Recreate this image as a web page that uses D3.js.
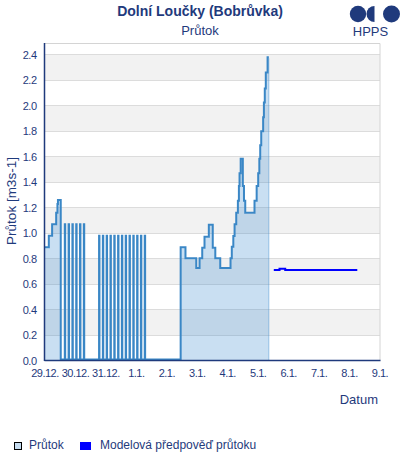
<!DOCTYPE html>
<html><head><meta charset="utf-8">
<script src="https://cdn.jsdelivr.net/npm/d3@7"></script>
<style>
html,body{margin:0;padding:0;background:#fff;}
svg{display:block;font-family:"Liberation Sans",Arial,sans-serif;}
</style></head>
<body><svg id="c" width="400" height="460"></svg>
<script>
// ---- data ----
const chartTitle = "Dolní Loučky (Bobrůvka)";
const chartSubtitle = "Průtok";
const yAxisTitle = "Průtok [m3s-1]";
const xAxisTitle = "Datum";
const legendLabels = ["Průtok", "Modelová předpověď průtoku"];
const startDate = new Date(2023, 11, 29);
const endDate = new Date(2024, 0, 9);
const yTicks = [0, 0.2, 0.4, 0.6, 0.8, 1.0, 1.2, 1.4, 1.6, 1.8, 2.0, 2.2, 2.4];
// observed flow: hours since 29.12. 00:00 and values (step changes)
const flowHours = [
  0, 3.4, 6, 9.2, 10.2, 10.6, 12.8,
  16, 16.3, 19, 19.3, 22, 22.3, 25, 25.3, 28, 28.3, 31, 31.3,
  43, 43.3, 46, 46.3, 49, 49.3, 52, 52.3, 55, 55.3, 58, 58.3, 61, 61.3,
  64, 64.3, 67, 67.3, 70, 70.3, 73, 73.3, 76, 76.3, 79, 79.3,
  107.3, 111.1, 119.6, 122.2, 124.3, 126.1, 129.5, 132.6, 134.6, 138.5,
  146.6, 147.6, 148.8, 149.8, 151.1, 152.4, 153.2, 153.7, 154.6, 156.3,
  157.2, 158.2, 165.5, 167.2, 168.4, 169.3, 170.0, 170.8, 172.3, 172.9,
  173.6, 174.4, 175.8, 176.8
];
const flowValues = [
  0.88, 0.97, 1.06, 1.15, 1.22, 1.25, 0,
  1.06, 0, 1.06, 0, 1.06, 0, 1.06, 0, 1.06, 0, 1.06, 0,
  0.97, 0, 0.97, 0, 0.97, 0, 0.97, 0, 0.97, 0, 0.97, 0, 0.97, 0,
  0.97, 0, 0.97, 0, 0.97, 0, 0.97, 0, 0.97, 0, 0.97, 0,
  0.88, 0.795, 0.717, 0.795, 0.877, 0.963, 1.057, 0.877, 0.795, 0.717,
  0.795, 0.885, 0.968, 1.06, 1.15, 1.245, 1.36, 1.46, 1.575, 1.36,
  1.245, 1.15, 1.245, 1.36, 1.46, 1.575, 1.68, 1.79, 1.9, 2.015,
  2.125, 2.25, 2.37, 2.37
];
// model forecast
const forecastHours = [180.7, 185.2, 189.7, 246.5];
const forecastValues = [0.71, 0.72, 0.71, 0.71];

// ---- drawing ----
const navy = "#1f3a7c";
const svg = d3.select("#c");
const L = 44.5, R = 379.5, T = 43, B = 360.5;
const toDate = h => new Date(startDate.getTime() + h * 3600e3);
const x = d3.scaleTime().domain([startDate, endDate]).range([L, R]);
const y = d3.scaleLinear().domain([0, 2.49]).range([B, T]);

// bands
const bands = yTicks.filter((v, i) => i % 2 === 1 && i + 1 < yTicks.length);
svg.append("g").selectAll("rect").data(bands).join("rect")
  .attr("x", L).attr("width", R - L + 0.5)
  .attr("y", d => y(d + 0.2)).attr("height", d => y(d) - y(d + 0.2))
  .attr("fill", "#f2f2f2");
// gridlines
svg.append("g").selectAll("line").data(yTicks.slice(1)).join("line")
  .attr("x1", L).attr("x2", R + 0.5)
  .attr("y1", d => Math.round(y(d)) + 0.5).attr("y2", d => Math.round(y(d)) + 0.5)
  .attr("stroke", "#dcdcdc").attr("stroke-width", 1);
// borders top/right
svg.append("path").attr("d", `M${L},${T + 0.5}H${R + 0.5}V${B}`)
  .attr("fill", "none").attr("stroke", "#d4d4d4").attr("stroke-width", 1);

const flow = flowHours.map((h, i) => ({t: toDate(h), v: flowValues[i]}));
const fc = forecastHours.map((h, i) => ({t: toDate(h), v: forecastValues[i]}));

svg.append("path").datum(flow)
  .attr("d", d3.area().curve(d3.curveStepAfter).x(d => x(d.t)).y0(y(0)).y1(d => y(d.v)))
  .attr("fill", "#3d8bd0").attr("fill-opacity", 0.28);
const last = flow[flow.length - 1];
svg.append("line").attr("x1", x(last.t)).attr("x2", x(last.t))
  .attr("y1", y(0)).attr("y2", y(last.v))
  .attr("stroke", "#3d8bd0").attr("stroke-opacity", 0.45).attr("stroke-width", 1);
svg.append("path").datum(flow)
  .attr("d", d3.line().curve(d3.curveStepAfter).x(d => x(d.t)).y(d => y(d.v) - 1))
  .attr("fill", "none").attr("stroke", "#3a87c6").attr("stroke-width", 2)
  .attr("stroke-linejoin", "miter");
svg.append("path").datum(fc)
  .attr("d", d3.line().curve(d3.curveStepAfter).x(d => x(d.t)).y(d => y(d.v)))
  .attr("fill", "none").attr("stroke", "#0000ff").attr("stroke-width", 2);

// axes
const ya = svg.append("g").attr("transform", `translate(${L},0)`)
  .call(d3.axisLeft(y).tickValues(yTicks).tickSize(0).tickPadding(8).tickFormat(d3.format(".1f")));
ya.select(".domain").remove();
ya.selectAll("text").attr("fill", navy).attr("font-size", 11).attr("letter-spacing", "-0.5px")
  .attr("font-family", "Liberation Sans, Arial, sans-serif").attr("dy", "0.36em");
const xa = svg.append("g").attr("transform", `translate(0,${B})`)
  .call(d3.axisBottom(x).ticks(d3.timeDay.every(1)).tickSize(0).tickPadding(9)
    .tickFormat(d3.timeFormat("%-d.%-m.")));
xa.select(".domain").remove();
xa.selectAll("text").attr("fill", navy).attr("font-size", 11).attr("letter-spacing", "-0.5px")
  .attr("font-family", "Liberation Sans, Arial, sans-serif");
svg.append("line").attr("x1", L).attr("x2", L).attr("y1", T).attr("y2", B + 0.5)
  .attr("stroke", navy).attr("stroke-width", 1.5);
svg.append("line").attr("x1", L).attr("x2", R + 1).attr("y1", B).attr("y2", B)
  .attr("stroke", navy).attr("stroke-width", 1.5);

// titles
svg.append("text").attr("x", 200).attr("y", 16).attr("text-anchor", "middle")
  .attr("font-size", 14).attr("font-weight", "bold").attr("fill", navy).text(chartTitle);
svg.append("text").attr("x", 200).attr("y", 35).attr("text-anchor", "middle")
  .attr("font-size", 13).attr("fill", navy).text(chartSubtitle);
svg.append("text").attr("transform", "translate(16,201) rotate(-90)").attr("text-anchor", "middle")
  .attr("font-size", 13.5).attr("fill", navy).text(yAxisTitle);
svg.append("text").attr("x", 378).attr("y", 404).attr("text-anchor", "end")
  .attr("font-size", 13).attr("fill", navy).text(xAxisTitle);

// logo
const logo = svg.append("g").attr("fill", navy);
logo.append("circle").attr("cx", 358).attr("cy", 14).attr("r", 8.2);
logo.append("path").attr("d", "M374.5,6 A8,8 0 0 0 374.5,22 Z");
logo.append("circle").attr("cx", 391.5).attr("cy", 14).attr("r", 8.5);
svg.append("text").attr("x", 370.5).attr("y", 36).attr("text-anchor", "middle")
  .attr("font-size", 13).attr("fill", navy).text("HPPS");

// legend
svg.append("rect").attr("x", 14.5).attr("y", 442.5).attr("width", 7).attr("height", 7)
  .attr("fill", "#c6dcf0").attr("stroke", "#000").attr("stroke-width", 1);
svg.append("text").attr("x", 29).attr("y", 449).attr("font-size", 12).attr("fill", navy).text(legendLabels[0]);
svg.append("rect").attr("x", 80).attr("y", 442).attr("width", 11).attr("height", 8).attr("fill", "#0000ff");
svg.append("text").attr("x", 100).attr("y", 449).attr("font-size", 12).attr("fill", navy).text(legendLabels[1]);
</script></body></html>
